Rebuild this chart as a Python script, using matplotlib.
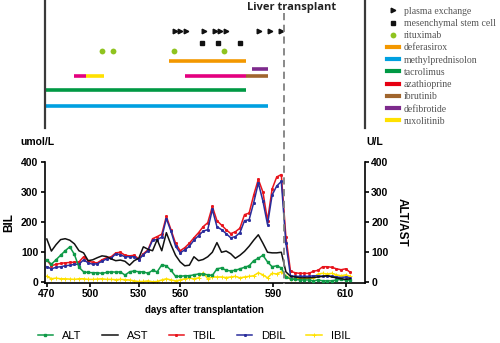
import numpy as np
import matplotlib
matplotlib.use('Agg')
from matplotlib import pyplot as plt
from matplotlib.lines import Line2D
from matplotlib import transforms

# x axis is measurement number, labelled with the day at a few of them
tick_idx = [0, 9.5, 20, 29, 49.2, 65]
tick_lab = ['470', '500', '530', '560', '590', '610']
transplant_idx = 51.6

ALT = [75, 60, 75, 90, 105, 118, 93, 50, 35, 33, 32, 32, 30, 33, 35, 34, 35, 24, 35, 38,
       35, 35, 30, 40, 35, 58, 55, 40, 20, 20, 22, 22, 25, 28, 28, 25, 23, 45, 48, 40,
       38, 40, 45, 50, 55, 72, 80, 90, 68, 52, 55, 48, 18, 12, 10, 8, 8, 8, 5, 8,
       5, 5, 5, 8, 10, 8, 8]
AST = [144, 104, 125, 142, 145, 140, 128, 105, 98, 72, 75, 82, 88, 86, 78, 72, 74, 70, 57, 72,
       80, 118, 110, 105, 142, 105, 165, 125, 90, 68, 55, 57, 85, 72, 76, 85, 100, 132, 100, 104,
       95, 80, 90, 103, 120, 140, 158, 130, 100, 98, 98, 100, 35, 20, 18, 15, 15, 15, 16, 18,
       20, 22, 18, 15, 12, 10, 12]
TBIL = [74, 55, 60, 63, 65, 66, 67, 68, 85, 72, 66, 65, 75, 82, 85, 98, 100, 90, 88, 90,
        78, 95, 108, 145, 152, 160, 219, 175, 130, 105, 115, 130, 148, 165, 185, 198, 252, 205, 190, 175,
        162, 168, 180, 225, 230, 290, 342, 300, 205, 310, 350, 358, 150, 37, 32, 30, 30, 30, 37, 40,
        52, 52, 50, 45, 42, 45, 33]
DBIL = [52, 45, 50, 52, 55, 57, 60, 60, 75, 65, 60, 62, 70, 78, 80, 95, 92, 85, 85, 85,
        75, 92, 105, 140, 142, 150, 212, 170, 120, 98, 108, 120, 140, 155, 170, 175, 242, 185, 175, 162,
        148, 152, 165, 205, 208, 265, 330, 270, 192, 290, 320, 335, 130, 22, 20, 20, 20, 20, 22, 22,
        20, 22, 20, 18, 16, 18, 15]
IBIL = [20, 12, 14, 12, 12, 11, 10, 12, 12, 10, 10, 11, 12, 10, 10, 9, 10, 9, 8, 5,
        3, 3, 5, 2, 3, 8, 12, 8, 5, 8, 12, 14, 12, 15, 32, 12, 18, 18, 18, 16,
        18, 20, 15, 18, 20, 22, 32, 25, 15, 30, 28, 35, 20, 12, 12, 12, 12, 14, 15, 28,
        30, 28, 30, 25, 22, 25, 20]

# treatments (in measurement-index units)
plasma_exchange = [27.9, 29.0, 30.3, 34.2, 36.6, 37.7, 39.0, 46.2, 48.6, 51.0]
stem_cell = [33.7, 37.2, 42.1]
rituximab = [12.0, 14.4, 27.6, 38.6]
deferasirox = [(26.6, 43.3)]
defibrotide = [(44.6, 48.2)]
azathioprine = [(6.0, 8.6), (30.0, 43.3)]
ruxolitinib = [(8.6, 12.4)]
ibrutinib = [(43.3, 48.2)]
tacrolimus = [(-0.5, 43.3)]
methylpred = [(-0.5, 48.2)]

C_ORANGE = '#f39800'
C_CYAN = '#00a0e0'
C_GREEN = '#009944'
C_RED = '#e60012'
C_MAGENTA = '#e4007f'
C_BROWN = '#a0652d'
C_PURPLE = '#7d2a8c'
C_YELLOW = '#ffe100'
C_LIME = '#8fc31f'

sans = 'Liberation Sans'
plt.rcParams['font.family'] = sans

k = np.arange(len(TBIL))
xlim = (-0.5, 69.2)

fig = plt.figure(figsize=(5, 3.43), dpi=100)
ax_top = fig.add_axes([0.089, 0.627, 0.641, 0.373])
ax = fig.add_axes([0.089, 0.175, 0.641, 0.353])
ax2 = ax.twinx()

# ---- top panel: treatments
ax_top.set_xlim(*xlim)
ax_top.set_ylim(128, 0)
for s in ['top', 'bottom']:
  ax_top.spines[s].set_visible(False)
for s in ['left', 'right']:
  ax_top.spines[s].set_linewidth(1.6)
  ax_top.spines[s].set_color('#3a3a3a')
ax_top.set_xticks([])
ax_top.set_yticks([])
ax_top.patch.set_alpha(0)

ax_top.plot(plasma_exchange, [31] * len(plasma_exchange), '>', color='#111', ms=3.3)
ax_top.plot(stem_cell, [43] * len(stem_cell), 's', color='#111', ms=3.0)
ax_top.plot(rituximab, [51] * len(rituximab), 'o', color=C_LIME, ms=4.2, mec='none')

bars = [(deferasirox, 61.5, C_ORANGE), (defibrotide, 69, C_PURPLE),
        (azathioprine, 76.5, C_MAGENTA), (ruxolitinib, 76.5, C_YELLOW),
        (ibrutinib, 76.5, C_BROWN), (tacrolimus, 90, C_GREEN), (methylpred, 106, C_CYAN)]
for spans, row, col in bars:
  for a, b in spans:
    ax_top.plot([a, b], [row, row], color=col, lw=2.6, solid_capstyle='butt')

ax_top.text(53.3, 8, 'Liver transplant', ha='center', va='center', fontsize=8,
            fontweight='bold', family='Open Sans', color='#222')

top_handles = [
  Line2D([], [], ls='none', marker='>', color='#111', ms=3.3),
  Line2D([], [], ls='none', marker='s', color='#111', ms=3.0),
  Line2D([], [], ls='none', marker='o', color=C_LIME, ms=4.2, mec='none'),
  Line2D([], [], color=C_ORANGE, lw=3),
  Line2D([], [], color=C_CYAN, lw=3),
  Line2D([], [], color=C_GREEN, lw=3),
  Line2D([], [], color=C_RED, lw=3),
  Line2D([], [], color=C_BROWN, lw=3),
  Line2D([], [], color=C_PURPLE, lw=3),
  Line2D([], [], color=C_YELLOW, lw=3),
]
top_labels = ['plasma exchange', 'mesenchymal stem cell', 'rituximab', 'deferasirox',
              'methylprednisolon', 'tacrolimus', 'azathioprine', 'ibrutinib',
              'defibrotide', 'ruxolitinib']
fig.legend(top_handles, top_labels, loc='upper left', bbox_to_anchor=(0.774, 0.98),
           frameon=False, borderpad=0, borderaxespad=0, handlelength=1.25,
           handletextpad=0.45, labelspacing=0.33,
           prop={'family': 'Liberation Serif', 'size': 7}, labelcolor='#555')

# ---- bottom panel: lab values
ax.set_xlim(*xlim)
ax.set_ylim(-2, 400)
ax2.set_ylim(-2, 400)

l_ibil, = ax.plot(k, IBIL, color=C_YELLOW, lw=1.1, marker='+', ms=2.2, mew=0.7)
l_tbil, = ax.plot(k, TBIL, color='#e8141c', lw=1.1, marker='s', ms=1.1)
l_dbil, = ax.plot(k, DBIL, color='#2a2d9c', lw=1.1, marker='s', ms=1.1)
l_alt, = ax2.plot(k, ALT, color='#0f9a48', lw=1.1, marker='s', ms=1.5)
l_ast, = ax2.plot(k, AST, color='#111', lw=1.1)

for s in ['top', 'right']:
  ax.spines[s].set_visible(False)
for s in ['top', 'left', 'bottom']:
  ax2.spines[s].set_visible(False)
for a in (ax, ax2):
  for s in a.spines.values():
    s.set_linewidth(1.2)
  a.tick_params(width=1.2, length=3, labelsize=7.5, pad=1.5)

ax.set_xticks(tick_idx)
ax.set_xticklabels(tick_lab, fontweight='bold')
ax.set_yticks([0, 100, 200, 300, 400])
ax.set_yticklabels(['0', '100', '200', '300', '400'], fontweight='bold')
ax2.set_yticks([0, 100, 200, 300, 400])
ax2.set_yticklabels(['0', '100', '200', '300', '400'], fontweight='bold')

ax.set_xlabel('days after transplantation', fontsize=7, fontweight='bold', labelpad=4)
ax.set_ylabel('BIL', fontsize=8.5, fontweight='bold', labelpad=4)
ax2.set_ylabel('ALT/AST', fontsize=8.5, fontweight='bold', rotation=270, labelpad=14)
fig.text(0.04, 0.586, 'umol/L', fontsize=7.5, fontweight='bold', va='center')
fig.text(0.732, 0.586, 'U/L', fontsize=7.5, fontweight='bold', va='center')

# transplant marker through both panels
tr = transforms.blended_transform_factory(ax.transData, fig.transFigure)
fig.add_artist(Line2D([transplant_idx, transplant_idx], [0.962, 0.172], transform=tr,
                      color='#808080', lw=1.3, dashes=(4, 2.5)))

fig.legend([l_alt, l_ast, l_tbil, l_dbil, l_ibil], ['ALT', 'AST', 'TBIL', 'DBIL', 'IBIL'],
           loc='center', bbox_to_anchor=(0.388, 0.02), ncol=5, frameon=False,
           fontsize=8, handlelength=1.4, handletextpad=0.8, columnspacing=1.85)

fig.savefig('out.png', dpi=100)
